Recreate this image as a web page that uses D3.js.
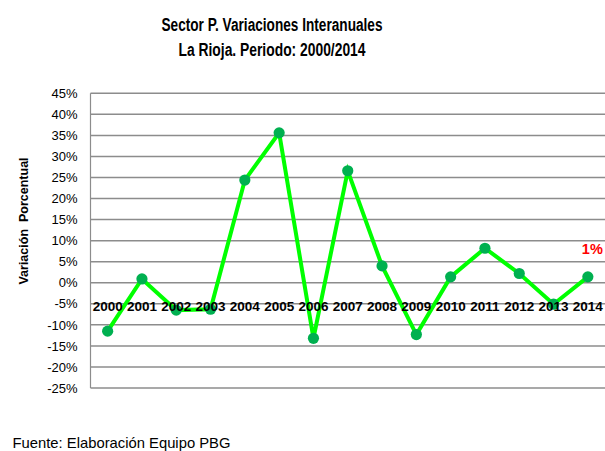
<!DOCTYPE html>
<html>
<head>
<meta charset="utf-8">
<script src="https://cdn.jsdelivr.net/npm/d3@7"></script>
<style>
html,body{margin:0;padding:0;background:#fff;}
svg{display:block;}
</style>
</head>
<body>
<svg id="chart" width="605" height="451"></svg>
<script>
const years = ["2000","2001","2002","2003","2004","2005","2006","2007","2008","2009","2010","2011","2012","2013","2014"];
const values = [-11.5, 0.9, -6.5, -6.3, 24.4, 35.6, -13.2, 26.6, 4.0, -12.3, 1.4, 8.2, 2.2, -5.1, 1.4];
const yTicks = [-25,-20,-15,-10,-5,0,5,10,15,20,25,30,35,40,45];
const titleLines = ["Sector P. Variaciones Interanuales", "La Rioja. Periodo: 2000/2014"];
const yAxisTitle = "Variación  Porcentual";
const lastLabel = "1%";
const source = "Fuente: Elaboración Equipo PBG";

(function () {
const svg = d3.select("#chart");
const pLeft = 90.5, pRight = 605, pTop = 93.3, pBottom = 388;

const x = d3.scaleBand().domain(years).range([pLeft, pRight]).padding(0);
const y = d3.scaleLinear().domain([-25, 45]).range([pBottom, pTop]);
const cx = d => x(d) + x.bandwidth() / 2;

// gridlines
svg.append("g").selectAll("line").data(yTicks).join("line")
  .attr("x1", pLeft).attr("x2", pRight)
  .attr("y1", d => y(d)).attr("y2", d => y(d))
  .attr("stroke", "#8c8c8c").attr("stroke-width", 1.5);

// y axis line
svg.append("line").attr("x1", pLeft).attr("x2", pLeft).attr("y1", pTop).attr("y2", pBottom)
  .attr("stroke", "#8c8c8c").attr("stroke-width", 1.2);

// y tick labels
svg.append("g").selectAll("text").data(yTicks).join("text")
  .attr("x", 77.5).attr("y", d => y(d)).attr("dy", "0.36em")
  .attr("text-anchor", "end")
  .attr("font-family", "Liberation Sans, Arial, sans-serif")
  .attr("font-size", 13).attr("fill", "#000")
  .text(d => d + "%");

// line
const line = d3.line().x((d, i) => cx(years[i])).y(d => y(d));
svg.append("path").datum(values)
  .attr("d", line).attr("fill", "none")
  .attr("stroke", "#00ff00").attr("stroke-width", 4)
  .attr("stroke-linejoin", "miter");

// markers
svg.append("g").selectAll("circle").data(values).join("circle")
  .attr("cx", (d, i) => cx(years[i])).attr("cy", d => y(d))
  .attr("r", 5.6).attr("fill", "#00b050");

// x category labels (drawn over the series)
svg.append("g").selectAll("text").data(years).join("text")
  .attr("x", d => cx(d)).attr("y", 306.5).attr("dy", "0.36em")
  .attr("text-anchor", "middle")
  .attr("font-family", "Liberation Sans, Arial, sans-serif")
  .attr("font-weight", "bold")
  .attr("font-size", 13.5).attr("fill", "#000")
  .text(d => d);

// last value label
svg.append("text")
  .attr("x", cx(years[years.length - 1]) + 4.5).attr("y", y(values[values.length - 1]) - 28.5)
  .attr("dy", "0.36em").attr("text-anchor", "middle")
  .attr("font-family", "Liberation Sans, Arial, sans-serif")
  .attr("font-weight", "bold").attr("font-size", 14.5).attr("fill", "#ff0000")
  .text(lastLabel);

// title
const tw = [221, 187];
svg.append("g").selectAll("text").data(titleLines).join("text")
  .attr("x", 272).attr("y", (d, i) => 25 + i * 25).attr("dy", "0.36em")
  .attr("text-anchor", "middle")
  .attr("font-family", "Liberation Sans, Arial, sans-serif")
  .attr("font-weight", "bold").attr("font-size", 18).attr("fill", "#000")
  .attr("textLength", (d, i) => tw[i]).attr("lengthAdjust", "spacingAndGlyphs")
  .text(d => d);

// y axis title
svg.append("text")
  .attr("transform", "translate(23,221) rotate(-90)")
  .attr("dy", "0.36em").attr("text-anchor", "middle")
  .attr("font-family", "Liberation Sans, Arial, sans-serif")
  .attr("font-weight", "bold").attr("font-size", 12.5).attr("fill", "#000")
  .style("white-space", "pre")
  .text(yAxisTitle);

// source
svg.append("text")
  .attr("x", 12.5).attr("y", 443).attr("dy", "0.36em")
  .attr("font-family", "Liberation Sans, Arial, sans-serif")
  .attr("font-size", 14.8).attr("fill", "#000")
  .text(source);
})();
</script>
</body>
</html>
